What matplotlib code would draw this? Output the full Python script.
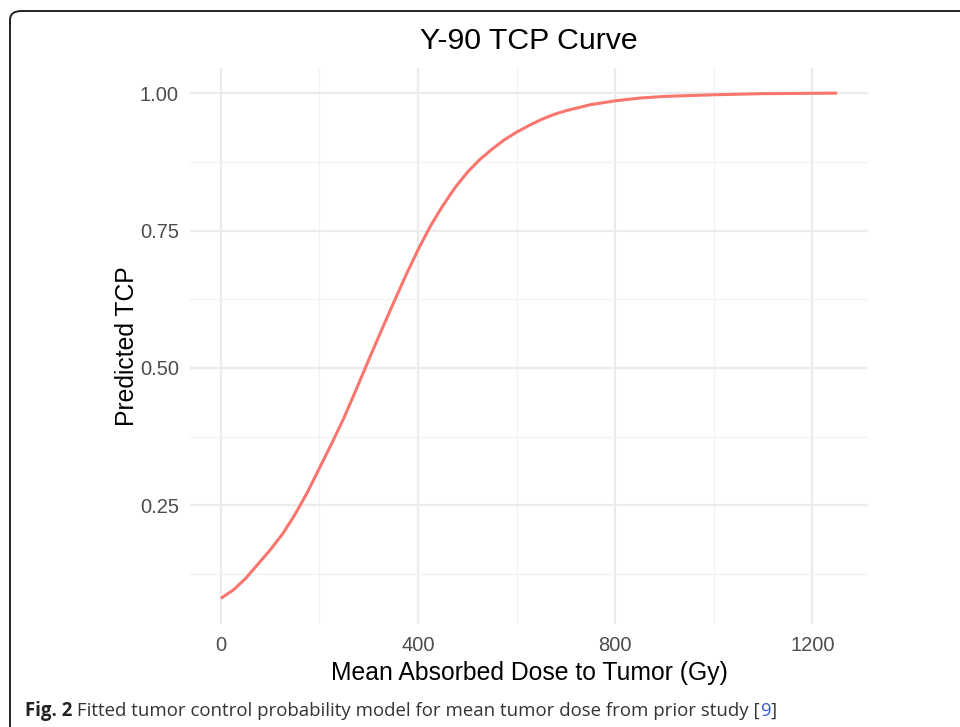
import numpy as np
import matplotlib.pyplot as plt
from matplotlib.patches import FancyBboxPatch

# values
dose = [0, 25, 50, 75, 100, 125, 150, 175, 200, 225, 250, 275, 300, 325, 350,
        375, 400, 425, 450, 475, 500, 525, 550, 575, 600, 625, 650, 675, 700,
        750, 800, 850, 900, 1000, 1100, 1250]
tcp = [0.081, 0.096, 0.117, 0.143, 0.169, 0.198, 0.233, 0.273, 0.318, 0.363,
       0.410, 0.462, 0.515, 0.567, 0.618, 0.668, 0.715, 0.758, 0.795, 0.828,
       0.856, 0.879, 0.898, 0.915, 0.929, 0.941, 0.952, 0.961, 0.968,
       0.979, 0.986, 0.991, 0.994, 0.997, 0.999, 1.000]

x_ticks = [0, 400, 800, 1200]
y_ticks = [0.25, 0.50, 0.75, 1.00]
y_labels = ["0.25", "0.50", "0.75", "1.00"]

plt.rcParams['font.family'] = ['Liberation Sans', 'DejaVu Sans']

fig = plt.figure(figsize=(9.6, 7.27), dpi=100)
ax = fig.add_axes([0.198, 0.1422, 0.706, 0.7645])

ax.plot(dose, tcp, color="#F8766D", lw=2.2, solid_capstyle="butt",
        solid_joinstyle="round")

ax.set_xlim(-62.5, 1312.5)
ax.set_ylim(0.035, 1.046)
ax.set_xticks(x_ticks)
ax.set_yticks(y_ticks)
ax.set_yticklabels(y_labels)
ax.set_xticks([200, 600, 1000], minor=True)
ax.set_yticks([0.125, 0.375, 0.625, 0.875], minor=True)
ax.grid(which="major", color="#EBEBEB", lw=1.6)
ax.grid(which="minor", color="#F2F2F2", lw=0.9)
ax.set_axisbelow(True)
for s in ax.spines.values():
    s.set_visible(False)
ax.tick_params(which="both", length=0)
ax.tick_params(axis="both", labelsize=14.5, colors="#4D4D4D")
ax.tick_params(axis="x", pad=9)
ax.tick_params(axis="y", pad=8)

ax.set_xlabel("Mean Absorbed Dose to Tumor (Gy)", fontsize=17.8, color="black", labelpad=4)
ax.set_ylabel("Predicted TCP", fontsize=17.8, color="black", labelpad=1)
fig.text(0.551, 0.944, "Y-90 TCP Curve", fontsize=21.8, ha="center", va="center")

# rounded frame around the figure panel
frame = FancyBboxPatch((10 / 960, -0.05), 1.2, 1.05 - 11 / 727,
                       boxstyle="round,pad=0,rounding_size=0.012",
                       transform=fig.transFigure, fill=False,
                       ec="#222222", lw=1.4, clip_on=False)
fig.patches.append(frame)

# caption, built piece by piece
fig.canvas.draw()
r = fig.canvas.get_renderer()
parts = [("Fig. 2", "bold", "#222222"),
         (" Fitted tumor control probability model for mean tumor dose from prior study [", "normal", "#333333"),
         ("9", "normal", "#3B5BDB"),
         ("]", "normal", "#333333")]
x = 25 / 960
for txt, w, c in parts:
    t = fig.text(x, 1 - 711 / 727, txt, fontsize=13.4, fontweight=w, color=c,
                 family=['Open Sans', 'DejaVu Sans'], va="center", ha="left")
    bb = t.get_window_extent(renderer=r)
    x += bb.width / 960

fig.savefig("out.png", dpi=100)
